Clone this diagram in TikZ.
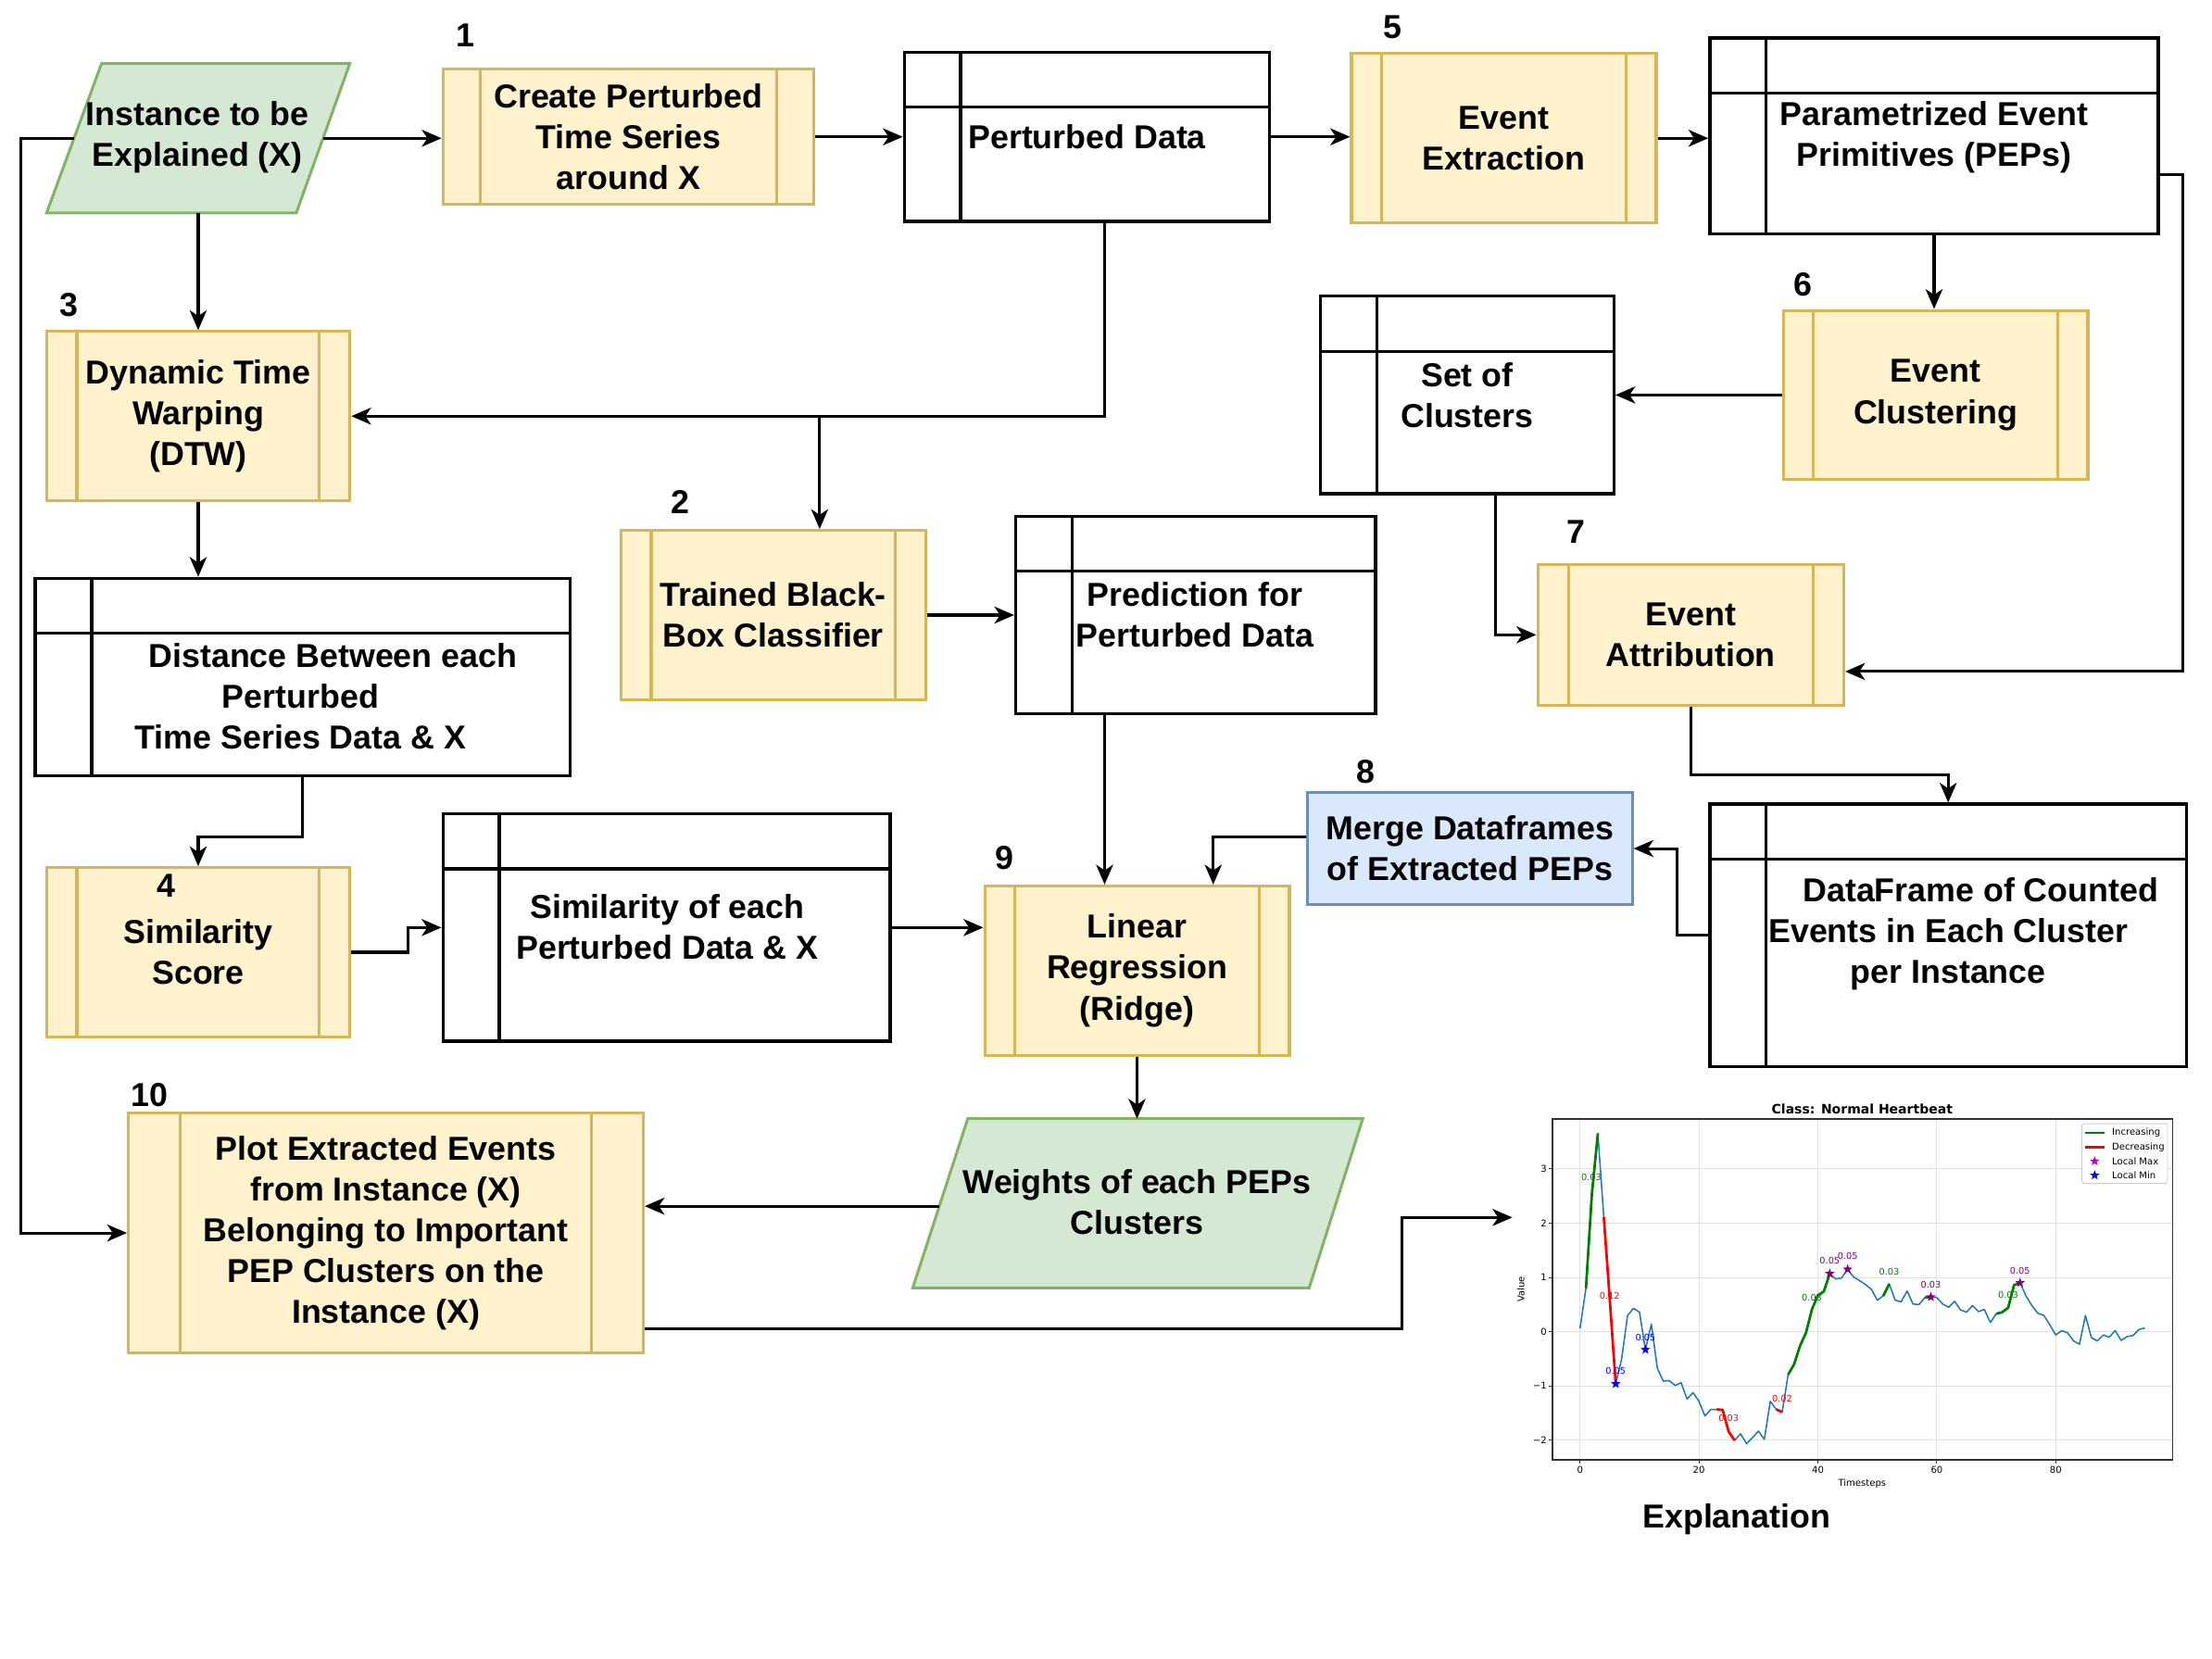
\documentclass[tikz,border=0pt]{standalone}
\usepackage{fontspec}
\setmainfont{Liberation Sans}
\newfontfamily\plotfont{DejaVu Sans}
\usetikzlibrary{arrows.meta,calc,shapes.geometric}
\definecolor{yfill}{HTML}{FFF2CC}
\definecolor{ystroke}{HTML}{D6B656}
\definecolor{gfill}{HTML}{D5E8D4}
\definecolor{gstroke}{HTML}{82B366}
\definecolor{bfill}{HTML}{DAE8FC}
\definecolor{bstroke}{HTML}{6C8EBF}
\definecolor{mplblue}{HTML}{1F77B4}
\definecolor{mplgreen}{HTML}{008000}
\definecolor{mplred}{HTML}{FF0000}
\definecolor{mplpurple}{HTML}{800080}
\definecolor{mplmag}{HTML}{BF00BF}
\definecolor{mplpblue}{HTML}{0000FF}
\tikzset{
  txt/.style={font=\bfseries\fontsize{11.75}{14.5}\selectfont, align=center, inner sep=0pt},
  sz/.style 2 args={minimum width=#1*0.5pt, minimum height=#2*0.5pt},
  proc/.style={txt, draw=ystroke, fill=yfill, line width=1pt,
    path picture={
      \draw[ystroke, line width=1pt]
        ($(path picture bounding box.north west)!0.1!(path picture bounding box.north east)$) --
        ($(path picture bounding box.south west)!0.1!(path picture bounding box.south east)$)
        ($(path picture bounding box.north west)!0.9!(path picture bounding box.north east)$) --
        ($(path picture bounding box.south west)!0.9!(path picture bounding box.south east)$);
    }},
  store/.style={draw=black, fill=white, line width=1.1pt, inner sep=0pt,
    path picture={
      \draw[line width=1.1pt] ([xshift=20pt]path picture bounding box.north west) -- ([xshift=20pt]path picture bounding box.south west);
      \draw[line width=1.1pt] ([yshift=-19.5pt]path picture bounding box.north west) -- ([yshift=-19.5pt]path picture bounding box.north east);
    }},
  bshape/.style={txt, draw=bstroke, fill=bfill, line width=1pt},
  gshape/.style={draw=gstroke, fill=gfill, line width=1pt},
  arr/.style={draw, line width=1pt, -{Stealth[length=7pt,width=6pt,inset=2pt]}},
  gridc/.style={draw=black!12, line width=0.35pt},
  pstar/.style={star, star points=5, star point ratio=2.4, inner sep=0pt, minimum size=3.6pt, draw=none},
  plabel/.style={inner sep=0pt, font=\plotfont\fontsize{3.2}{4}\selectfont},
}
\begin{document}
\begin{tikzpicture}[x=0.5pt,y=-0.5pt]
\useasboundingbox (0,0) rectangle (1568,1176);

% ---------- input parallelogram ----------
\filldraw[gshape] (72,45) -- (248,45) -- (210,151) -- (33,151) -- cycle;
\node[txt] (inst) at (140,97.5) {Instance to be\\Explained (X)};
\coordinate (instR) at (229,98);
\coordinate (instL) at (52.5,98);
\coordinate (instB) at (141,151);

% ---------- top row ----------
\node[proc, sz={263}{96}] (box1) at (445.5,97) {Create Perturbed\\Time Series\\around X};
\node[txt] (n1) at (330,25) {1};
\node[store, sz={259}{120}] (pd) at (770.5,97) {};
\node[txt, anchor=west] (pdT) at (686,97) {Perturbed Data};
\node[proc, sz={216}{120}] (box5) at (1066,98) {Event\\Extraction};
\node[txt] (n5) at (987,19) {5};
\node[store, sz={318}{139}] (peps) at (1371,96.5) {};
\node[txt] (pepsT) at (1371,97.5) {Parametrized Event\\Primitives (PEPs)};

% ---------- second row ----------
\node[proc, sz={215}{120}] (dtw) at (140.5,295) {Dynamic Time\\Warping\\(DTW)};
\node[txt] (n3) at (49,216) {3};
\node[store, sz={208}{140}] (soc) at (1040,280) {};
\node[txt] (socT) at (1040,280) {Set of\\Clusters};
\node[proc, sz={216}{120}] (box6) at (1372,280) {Event\\Clustering};
\node[txt] (n6) at (1278,202) {6};

% ---------- third row ----------
\node[store, sz={379}{140}] (dist) at (214.5,480) {};
\node[txt] (distT) at (213,493.5) {\hspace*{23pt}Distance Between each\\Perturbed\\Time Series Data \& X};
\node[proc, sz={216}{120}] (box2) at (548,436) {Trained Black-\\Box Classifier};
\node[txt] (n2) at (482,356) {2};
\node[store, sz={255}{140}] (pred) at (847.5,436) {};
\node[txt] (predT) at (847,436) {Prediction for\\Perturbed Data};
\node[proc, sz={217}{100}] (box7) at (1198.5,450) {Event\\Attribution};
\node[txt] (n7) at (1117,377) {7};

% ---------- fourth row ----------
\node[proc, sz={215}{120}] (box4) at (140.5,675) {Similarity\\Score};
\node[txt] (n4) at (118,628) {4};
\node[store, sz={317}{161}] (sim) at (472.5,657.5) {};
\node[txt] (simT) at (473,657) {Similarity of each\\Perturbed Data \& X};
\node[proc, sz={216}{120}] (box9) at (806,688) {Linear\\Regression\\(Ridge)};
\node[txt] (n9) at (712,608) {9};
\node[bshape, sz={230}{79}] (merge) at (1042,601.5) {Merge Dataframes\\of Extracted PEPs};
\node[txt] (n8) at (968,547) {8};
\node[store, sz={338}{186}] (df) at (1381,663) {};
\node[txt] (dfT) at (1381,662) {\hspace*{23pt}DataFrame of Counted\\Events in Each Cluster\\per Instance};

% ---------- bottom row ----------
\node[proc, sz={365}{170}] (box10) at (273.5,874) {Plot Extracted Events\\from Instance (X)\\Belonging to Important\\PEP Clusters on the\\Instance (X)};
\node[txt] (n10) at (106,776) {10};
\filldraw[gshape] (686,793) -- (966,793) -- (928,913) -- (647,913) -- cycle;
\node[txt] (wts) at (806,852) {Weights of each PEPs\\Clusters};
\coordinate (wT) at (806,793);
\coordinate (wL) at (666,855);
\node[txt] (expl) at (1231,1077) {Explanation};
\coordinate (plotL) at (1072,863);

% ---------- connectors ----------
\draw[arr] (instR) -- (instR -| box1.west);
\draw[arr] (instL) -- ++(-18.75pt,0) |- (box10.west);
\draw[arr] (dtw.north |- instB) -- (dtw.north);
\draw[arr] (box1.east) -- (box1.east -| pd.west);
\draw[arr] (pd.east) -- (pd.east -| box5.west);
\draw[arr] (box5.east) -- (box5.east -| peps.west);
\draw[arr] (peps.south) -- (peps.south |- box6.north);
\coordinate (pepsR) at (1530,124);
\draw[arr] (pepsR) -- ++(8.5pt,0) |- ([yshift=-13pt]box7.east);
\draw[arr] (box6.west) -- (box6.west -| soc.east);
\draw[arr] ([xshift=10pt]soc.south) |- (box7.west);
\draw[arr] (box7.south) -- ++(0,-24pt) -| (df.north);
\draw[arr] (df.west) -- ++(-11pt,0) |- (merge.east);
\draw[arr] ([yshift=4.25pt]merge.west) -| ([xshift=27pt]box9.north);
\draw[arr] ([xshift=6.25pt]pd.south) |- (dtw.east);
\path ([xshift=16.5pt]box2.north) coordinate (b2top);
\draw[arr] (b2top |- dtw.east) -- (b2top);
\draw[arr] (box2.east) -- (box2.east -| pred.west);
\path ([xshift=-32.25pt]pred.south) coordinate (predB);
\draw[arr] (predB) -- (predB |- box9.north);
\draw[arr] (dtw.south) -- (dtw.south |- dist.north);
\draw[arr] (dist.south) -- ++(0,-21pt) -| (box4.north);
\draw[arr] (box4.east) -- ++(20pt,0) |- (sim.west);
\draw[arr] (sim.east) -- (sim.east -| box9.west);
\draw[arr] (box9.south) -- (box9.south |- wT);
\draw[arr] (wL) -- (wL -| box10.east);
\path ([yshift=-34pt]box10.east) coordinate (b10R);
\draw[arr] (b10R) -- ++(268.5pt,0) |- (plotL);

% ---------- explanation plot ----------
\begin{scope}[shift={(1120,944)}, x=2.1075pt, y=19.25pt, font=\plotfont\fontsize{3.3}{4}\selectfont]
  \foreach \t in {0,20,40,60,80} \draw[gridc] (\t,-2.36) -- (\t,3.92);
  \foreach \v in {-2,-1,0,1,2,3} \draw[gridc] (-4.66,\v) -- (99.65,\v);
  \draw[line width=0.45pt, black!80] (-4.66,-2.36) rectangle (99.65,3.92);
  \foreach \t in {0,20,40,60,80} {
    \draw[line width=0.35pt, black!80] (\t,-2.36) -- ++(0,-1.2pt);
    \node[anchor=north, inner sep=0pt] at (\t,-2.47) {\t};
  }
  \foreach \v/\l in {-2/−2,-1/−1,0/0,1/1,2/2,3/3} {
    \draw[line width=0.35pt, black!80] (-4.66,\v) -- ++(-1.2pt,0);
    \node[anchor=east, inner sep=0pt] at (-5.5,\v) {\l};
  }
  \node[rotate=90, inner sep=0pt] at (-9.96,0.78) {Value};
  \node[inner sep=0pt] at (47.45,-2.8) {Timesteps};
  \node[inner sep=0pt, font=\plotfont\bfseries\fontsize{4.6}{5}\selectfont] at (47.45,4.1) {Class: Normal Heartbeat};
  % series
  \draw[mplblue, line width=0.5pt, line join=round] plot coordinates {
    (0,0.06)(1,0.8)(2,2.54)(3,3.65)(4,2.11)(5,0.6)(6,-0.96)(7,-0.5)(8,0.3)(9,0.43)
    (10,0.36)(11,-0.33)(12,0.14)(13,-0.67)(14,-0.91)(15,-0.9)(16,-0.99)(17,-0.94)(18,-1.24)(19,-1.12)
    (20,-1.28)(21,-1.55)(22,-1.43)(23,-1.43)(24,-1.44)(25,-1.84)(26,-2.0)(27,-1.88)(28,-2.06)(29,-1.95)
    (30,-1.83)(31,-1.98)(32,-1.28)(33,-1.43)(34,-1.48)(35,-0.79)(36,-0.6)(37,-0.26)(38,-0.02)(39,0.41)
    (40,0.67)(41,0.74)(42,1.07)(43,0.97)(44,0.99)(45,1.15)(46,1.01)(47,0.94)(48,0.87)(49,0.78)
    (50,0.58)(51,0.66)(52,0.88)(53,0.58)(54,0.55)(55,0.75)(56,0.51)(57,0.5)(58,0.63)(59,0.64)
    (60,0.63)(61,0.51)(62,0.45)(63,0.56)(64,0.4)(65,0.36)(66,0.48)(67,0.37)(68,0.41)(69,0.17)
    (70,0.33)(71,0.36)(72,0.44)(73,0.86)(74,0.9)(75,0.66)(76,0.48)(77,0.34)(78,0.3)(79,0.13)
    (80,-0.06)(81,0.02)(82,-0.02)(83,-0.17)(84,-0.23)(85,0.3)(86,-0.11)(87,-0.17)(88,-0.06)(89,-0.1)
    (90,0.02)(91,-0.16)(92,-0.09)(93,-0.07)(94,0.04)(95,0.07)};
  % increasing
  \draw[mplgreen, line width=0.9pt, line join=round] plot coordinates {(1,0.8)(2,2.54)(3,3.65)};
  \draw[mplgreen, line width=0.9pt, line join=round] plot coordinates {(35,-0.79)(36,-0.6)(37,-0.26)(38,-0.02)(39,0.41)(40,0.67)(41,0.74)(42,1.07)};
  \draw[mplgreen, line width=0.9pt, line join=round] plot coordinates {(51,0.66)(52,0.88)};
  \draw[mplgreen, line width=0.9pt, line join=round] plot coordinates {(58,0.63)(59,0.64)};
  \draw[mplgreen, line width=0.9pt, line join=round] plot coordinates {(70,0.33)(71,0.36)(72,0.44)(73,0.86)(74,0.9)};
  % decreasing
  \draw[mplred, line width=0.9pt, line join=round] plot coordinates {(4,2.11)(5,0.6)(6,-0.96)};
  \draw[mplred, line width=0.9pt, line join=round] plot coordinates {(23,-1.43)(24,-1.44)(25,-1.84)(26,-2.0)};
  \draw[mplred, line width=0.9pt, line join=round] plot coordinates {(33,-1.43)(34,-1.48)};
  % markers
  \node[pstar, fill=mplpblue] at (6,-0.96) {};
  \node[pstar, fill=mplpblue] at (11,-0.33) {};
  \node[pstar, fill=mplpurple] at (42,1.07) {};
  \node[pstar, fill=mplpurple] at (45,1.15) {};
  \node[pstar, fill=mplpurple] at (59,0.64) {};
  \node[pstar, fill=mplpurple] at (74,0.9) {};
  % annotations
  \node[plabel, text=mplgreen] at (1.9,2.84) {0.03};
  \node[plabel, text=mplred] at (5,0.66) {0.12};
  \node[plabel, text=mplpblue] at (6,-0.72) {0.05};
  \node[plabel, text=mplpblue] at (11,-0.11) {0.05};
  \node[plabel, text=mplred] at (25,-1.59) {0.03};
  \node[plabel, text=mplred] at (34,-1.24) {0.02};
  \node[plabel, text=mplgreen] at (39,0.62) {0.03};
  \node[plabel, text=mplpurple] at (42,1.31) {0.05};
  \node[plabel, text=mplpurple] at (45,1.4) {0.05};
  \node[plabel, text=mplgreen] at (52,1.11) {0.03};
  \node[plabel, text=mplpurple] at (59,0.87) {0.03};
  \node[plabel, text=mplgreen] at (72,0.67) {0.03};
  \node[plabel, text=mplpurple] at (74,1.12) {0.05};
  % legend
  \draw[black!20, fill=white, line width=0.3pt, rounded corners=0.6pt] (84.4,2.73) rectangle (98.8,3.83);
  \draw[mplgreen, line width=0.9pt] (84.9,3.66) -- (88.2,3.66);
  \node[anchor=west, inner sep=0pt] at (89.4,3.66) {Increasing};
  \draw[mplred, line width=0.9pt] (84.9,3.40) -- (88.2,3.40);
  \node[anchor=west, inner sep=0pt] at (89.4,3.40) {Decreasing};
  \node[pstar, fill=mplmag] at (86.55,3.14) {};
  \node[anchor=west, inner sep=0pt] at (89.4,3.14) {Local Max};
  \node[pstar, fill=mplpblue] at (86.55,2.88) {};
  \node[anchor=west, inner sep=0pt] at (89.4,2.88) {Local Min};
\end{scope}
\end{tikzpicture}
\end{document}
